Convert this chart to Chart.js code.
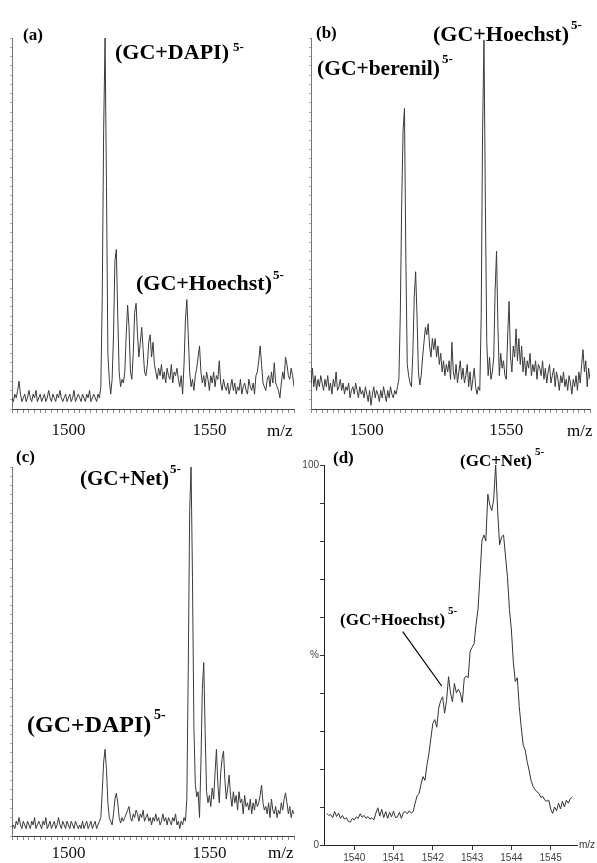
<!DOCTYPE html>
<html><head><meta charset="utf-8">
<script src="https://cdn.jsdelivr.net/npm/chart.js@4.4.1/dist/chart.umd.min.js"></script>
<style>
html,body{margin:0;padding:0;background:#fff;}
#wrap{position:relative;width:597px;height:863px;overflow:hidden;background:#fff;}
canvas{position:absolute;left:0;top:0;}
</style></head><body>
<div id="wrap">
<canvas id="ca" width="597" height="863"></canvas>
<canvas id="cb" width="597" height="863"></canvas>
<canvas id="cc" width="597" height="863"></canvas>
<canvas id="cd" width="597" height="863"></canvas>
</div>
<script>
// ---- data ----
const mzStartWide = 1480, mzStepWide = 0.5;   // panels a-c sampling
const intensityA = [
3,2,4,3,5,7.5,4,2,3,4,
2,3,5,3,2,4,3,5,2,3,
4,2,3,4,2,3,5,3,2,4,
3,2,4,3,5,3,2,3,4,2,
3,4,2,3,5,2,3,4,3,2,
4,3,2,4,3,5,2,3,4,3,
2,4,3,6,30,75,100,60,15,8,
4,8,20,40,43,25,10,6,8,7,
10,20,28,22,10,8,15,26,28.5,20,
14,18,22,16,10,9,12,18,20,14,
18,12,10,8,11,9,12,8,10,7,
11,9,8,12,7,10,9,11,8,6,
9,4,12,24,29.5,20,10,6,8,5,
9,11,14,17,10,7,9,6,10,8,
5,9,7,10,6,9,8,13,7,5,
8,6,5,7,4,6,8,5,7,4,
6,5,8,4,6,7,5,4,8,6,
5,7,4,9,10,13,17,12,7,6,
5,8,9,6,10,7,12.5,7,6,5,
3,7,10,8,14,12,9,8,11,9,
6];
const intensityB = [
7,11,6,9,5,8,6,9,7,5,
8,6,9,5,7,4,8,6,10,5,
6,8,5,7,4,6,5,7,3,5,
6,4,7,5,3,6,4,5,3,6,
4,2,5,1,4,6,3,5,4,2,
5,3,6,4,2,5,3,6,4,3,
5,4,6,8,25,55,75,81,40,12,
9,7,6,15,30,37,25,10,6.5,9,
14,18,22,20,23,17,14,19,16,19,
14,17,12,15,10,13,9,12,10,13,
8,18,10,8,12,7,10,13,8,11,
7,9,12,6,10,5,8,11,6,4,
6,5,25,75,99.5,55,18,9,14,8,
10,14,32,42.5,22,9,15,11,13,9,
8,20,29,14,10,17,14,21.6,13,19,
12,17,10,14,9,13,11,15,9,12,
10,13,8,12,11,9,13,8,11,7,
10,12,7,9,11,6,10,8,5,9,
7,10,6,8,5,9,7,4,8,6,
9,5,10,7,12,16,10,13,6,11,
8];
const intensityC = [
2,3,2,4,3,5,3,2,4,3,
2,4,3,2,4,3,5,2,3,4,
3,2,4,3,5,2,3,4,2,3,
4,2,3,5,3,2,4,3,2,4,
3,2,4,3,2,4,3,2,3,2,
4,2,3,4,2,3,4,2,3,4,
2,3,4,5,12,20,23.5,18,9,5,
4,3,6,10,11.6,9,5,3.5,5,4,
5,6,7,8,5,4,6,5,7,6,
4,6,5,7,4,5,6,4,5,3,
5,4,6,4,5,3,4,6,4,5,
3,5,4,3,5,4,6,3,4,2,
4,3,5,4,10,45,88,100,70,30,
14,10.6,12,5,20,40,47,28,12,9,
11,8,13,10,17,23.5,14,9,17,21,
23,15,10,13,16.5,11,8,12,9,11,
7,12,9,10,6,11,8,9,7,10,
6,9,7,10,8,9,11,13.8,9,7,
8,6,9,5,10,7,6,8,5,7,
6,9,7,10,11.7,9,6,8,5,7,
6];
const mzStartZoom = 1539.30, mzStepZoom = 0.05; // panel d sampling
const intensityD = [
8.3,7.8,8.0,7.2,8.8,7.5,8.4,7.0,7.8,6.8,
7.2,6.2,6.0,7.0,6.6,7.4,7.0,8.2,7.3,7.8,
7.0,7.5,6.8,7.2,6.6,8.4,9.8,7.6,9.4,7.2,
8.8,7.0,8.6,7.4,8.9,7.2,7.4,8.6,7.0,8.5,
8.8,8.2,9.0,8.4,8.8,
11,13,13.5,16,18,17,21,24,28,32,
33,31,36,38,39,34.7,38,44.3,40,37.7,
42.5,40,41,40,37.5,43.9,44.5,44,51,52,
53,58,62,70.6,80,81.6,80,92.3,89.5,88,
91,
100,88,79,81,81.6,76,70.6,62,56.6,48,
43,44,36.4,31,26.3,25,22,19.7,17,15.5,
14.6,14,13.6,12.5,12.8,11.8,11.5,11.8,9.5,8.3,
10,9,11,9.5,11.5,10,11.8,11,12.2,12.6];
const wideRange = [1480, 1580];
const wideTickLabels = [1500, 1550];
const wideMinorStep = 2;
const zoomRange = [1539.23, 1545.67];
const zoomTickLabels = [1540, 1541, 1542, 1543, 1544, 1545];
const zoomYTicks = [0,10,20,30,40,50,60,70,80,90,100];
const zoomYLabels = {0:'0', 50:'%', 100:'100'};

// ---- helpers ----
const SERIF = '"Liberation Serif","Times New Roman",serif';
const SANS = '"Liberation Sans",Arial,sans-serif';
function series(values, start, step){
  return values.map((v,i)=>({x: Math.round((start+i*step)*1000)/1000, y: v}));
}
function textPlugin(items, lines){
  return {
    id:'panelText',
    afterDraw(chart){
      const ctx = chart.ctx; ctx.save();
      items.forEach(it=>{
        ctx.font = it.font; ctx.fillStyle = it.color || '#000';
        ctx.textAlign = 'left'; ctx.textBaseline = 'alphabetic';
        ctx.fillText(it.text, it.x, it.y);
      });
      lines.forEach(l=>{
        ctx.beginPath(); ctx.moveTo(l[0],l[1]); ctx.lineTo(l[2],l[3]);
        ctx.strokeStyle = '#000'; ctx.lineWidth = 1.2; ctx.stroke();
      });
      ctx.restore();
    }
  };
}
function wideChart(id, values, area, axisH, labelPad, items){
  return new Chart(document.getElementById(id), {
    type:'line',
    data:{datasets:[{data: series(values, mzStartWide, mzStepWide), borderColor:'#3a3a3a', borderWidth:1, pointRadius:0, tension:0, fill:false}]},
    options:{
      responsive:false, animation:false, devicePixelRatio:1,
      layout:{padding:{left:area.l-12, top:area.t, right:597-area.r, bottom:863-area.b-axisH}},
      plugins:{legend:{display:false}, tooltip:{enabled:false}},
      scales:{
        x:{type:'linear', min:wideRange[0], max:wideRange[1],
          afterFit:s=>{s.height=axisH;},
          afterBuildTicks:s=>{const t=[]; for(let v=wideRange[0]; v<=wideRange[1]; v+=wideMinorStep) t.push({value:v}); s.ticks=t;},
          ticks:{autoSkip:false, maxRotation:0, minRotation:0, padding:labelPad, color:'#111',
            font:{family:SERIF, size:17}, callback:v=> wideTickLabels.includes(v) ? String(v) : ''},
          grid:{drawOnChartArea:false, drawTicks:true, tickLength:4, color:'#8a8a8a'},
          border:{display:true, color:'#444', width:1}
        },
        y:{min:0, max:100, afterFit:s=>{s.width=12;},
          ticks:{display:false, stepSize:2.5},
          grid:{drawOnChartArea:false, drawTicks:true, tickLength:2, color:'#aaa'},
          border:{display:true, color:'#777', width:1, dash:[1,1]}
        }
      }
    },
    plugins:[textPlugin(items, [])]
  });
}

const B = w=>'bold '+w+'px '+SERIF;

wideChart('ca', intensityA, {l:12, t:38, r:294, b:409}, 40, 7, [
  {text:'(a)', x:23, y:40, font:B(17)},
  {text:'(GC+DAPI)', x:115, y:59, font:B(22)},
  {text:'5-', x:233, y:51, font:B(13)},
  {text:'(GC+Hoechst)', x:136, y:290, font:B(22)},
  {text:'5-', x:273, y:279, font:B(13)},
  {text:'m/z', x:267, y:436, font:'17px '+SERIF}
]);
wideChart('cb', intensityB, {l:311, t:38, r:593, b:409}, 40, 7, [
  {text:'(b)', x:316, y:38, font:B(17)},
  {text:'(GC+Hoechst)', x:433, y:41, font:B(22)},
  {text:'5-', x:571, y:29, font:B(13)},
  {text:'(GC+berenil)', x:317, y:75, font:B(21.5)},
  {text:'5-', x:442, y:63, font:B(13)},
  {text:'m/z', x:567, y:436, font:'17px '+SERIF}
]);
wideChart('cc', intensityC, {l:12, t:467, r:294, b:836}, 27, 3, [
  {text:'(c)', x:16, y:462, font:B(17)},
  {text:'(GC+Net)', x:80, y:485, font:B(21)},
  {text:'5-', x:170, y:473, font:B(13)},
  {text:'(GC+DAPI)', x:27, y:732, font:B(24)},
  {text:'5-', x:154, y:719, font:B(14)},
  {text:'m/z', x:268, y:858, font:'17px '+SERIF}
]);

// panel d
new Chart(document.getElementById('cd'), {
  type:'line',
  data:{datasets:[{data: series(intensityD, mzStartZoom, mzStepZoom), borderColor:'#333', borderWidth:1, pointRadius:0, tension:0, fill:false}]},
  options:{
    responsive:false, animation:false, devicePixelRatio:1,
    layout:{padding:{left:300, top:465, right:597-577, bottom:0}},
    plugins:{legend:{display:false}, tooltip:{enabled:false}},
    scales:{
      x:{type:'linear', min:zoomRange[0], max:zoomRange[1],
        afterFit:s=>{s.height=863-845;},
        afterBuildTicks:s=>{s.ticks = zoomTickLabels.map(v=>({value:v}));},
        ticks:{autoSkip:false, maxRotation:0, minRotation:0, padding:2, color:'#444',
          font:{family:SANS, size:10}, callback:v=>String(v)},
        grid:{drawOnChartArea:false, drawTicks:true, tickLength:5, color:'#333'},
        border:{display:true, color:'#222', width:1}
      },
      y:{min:0, max:100, afterFit:s=>{s.width=24;},
        afterBuildTicks:s=>{s.ticks = zoomYTicks.map(v=>({value:v}));},
        ticks:{autoSkip:false, padding:1, color:'#444', font:{family:SANS, size:10},
          callback:v=> zoomYLabels[v] !== undefined ? zoomYLabels[v] : ''},
        grid:{drawOnChartArea:false, drawTicks:true, tickLength:4, color:'#333'},
        border:{display:true, color:'#222', width:1}
      }
    }
  },
  plugins:[textPlugin([
    {text:'(d)', x:333, y:463, font:B(17)},
    {text:'(GC+Net)', x:460, y:466, font:B(17)},
    {text:'5-', x:535, y:455, font:B(11)},
    {text:'(GC+Hoechst)', x:340, y:625, font:B(17)},
    {text:'5-', x:448, y:614, font:B(11)},
    {text:'m/z', x:579, y:848, font:'10px '+SANS, color:'#333'}
  ], [[402.7,631.7,441.7,686]])]
});
</script>
</body></html>
